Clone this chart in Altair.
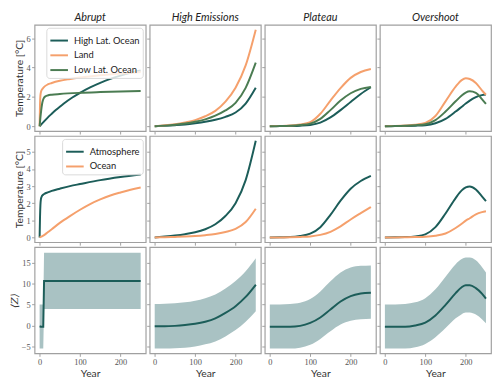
import altair as alt
import pandas as pd

# ---------------- data ----------------
SCENARIOS = ["Abrupt", "High Emissions", "Plateau", "Overshoot"]
REGION_NAMES = ["High Lat. Ocean", "Land", "Low Lat. Ocean"]
LAYER_NAMES = ["Atmosphere", "Ocean"]
X_TICKS = [0, 100, 200]
Y1_TICKS = [0, 2, 4, 6]
Y2_TICKS = [0, 1, 2, 3, 4, 5]
Y3_TICKS = [-5, 0, 5, 10, 15]

YEARS = [0, 25, 50, 75, 100, 125, 150, 175, 200, 225, 250]
OS_YEARS = [0, 25, 50, 75, 100, 125, 150, 175, 190, 200, 210, 225, 240, 250]

# Row 1 : regional temperatures
AB_YEARS_HLO = [0, 10, 20, 30, 40, 50, 60, 80, 100, 125, 150, 175, 200, 225, 250]
AB_HLO = [0, 0.30, 0.59, 0.85, 1.10, 1.33, 1.55, 1.94, 2.28, 2.65, 2.96, 3.23, 3.45, 3.64, 3.80]
AB_YEARS_LAND = [0, 1, 2, 4, 7, 10, 20, 30, 50, 75, 100, 150, 200, 250]
AB_LAND = [0, 1.5, 2.1, 2.4, 2.55, 2.65, 2.85, 2.95, 3.1, 3.22, 3.32, 3.48, 3.6, 3.7]
AB_YEARS_LLO = [0, 2, 4, 6, 8, 10, 15, 20, 30, 50, 100, 150, 200, 250]
AB_LLO = [0, 0.6, 1.1, 1.5, 1.75, 1.9, 2.05, 2.1, 2.15, 2.2, 2.28, 2.33, 2.37, 2.41]

HE_HLO = [0, 0.03, 0.07, 0.12, 0.20, 0.30, 0.44, 0.64, 0.94, 1.55, 2.63]
HE_LAND = [0, 0.06, 0.14, 0.26, 0.42, 0.68, 1.05, 1.68, 2.63, 4.15, 6.59]
HE_LLO = [0, 0.04, 0.10, 0.18, 0.30, 0.47, 0.72, 1.08, 1.60, 2.62, 4.34]

PL_HLO = [0, 0.01, 0.02, 0.04, 0.09, 0.25, 0.60, 1.10, 1.65, 2.20, 2.66]
PL_LAND = [0, 0.02, 0.05, 0.12, 0.28, 0.85, 1.75, 2.60, 3.30, 3.70, 3.90]
PL_LLO = [0, 0.01, 0.03, 0.08, 0.18, 0.50, 1.10, 1.75, 2.25, 2.55, 2.68]

OS_HLO = [0, 0.01, 0.02, 0.04, 0.07, 0.20, 0.50, 1.00, 1.33, 1.55, 1.75, 1.98, 2.12, 2.16]
OS_LAND = [0, 0.02, 0.05, 0.10, 0.22, 0.70, 1.70, 2.70, 3.15, 3.27, 3.22, 2.95, 2.45, 2.15]
OS_LLO = [0, 0.01, 0.03, 0.07, 0.14, 0.42, 1.00, 1.70, 2.10, 2.30, 2.38, 2.28, 1.85, 1.52]

# Row 2 : atmosphere / ocean temperatures
AB_YEARS_ATM = [0, 1, 2, 3, 5, 8, 12, 20, 30, 50, 75, 100, 150, 200, 250]
AB_ATM = [0, 1.2, 1.9, 2.2, 2.38, 2.48, 2.55, 2.63, 2.72, 2.85, 3.0, 3.12, 3.35, 3.53, 3.68]
AB_YEARS_OCN = [0, 10, 20, 30, 50, 75, 100, 125, 150, 175, 200, 225, 250]
AB_OCN = [0, 0.12, 0.3, 0.48, 0.85, 1.25, 1.62, 1.95, 2.22, 2.45, 2.63, 2.79, 2.92]

HE_ATM = [0, 0.05, 0.11, 0.19, 0.30, 0.48, 0.77, 1.25, 2.00, 3.35, 5.65]
HE_OCN = [0, 0.01, 0.03, 0.05, 0.08, 0.13, 0.20, 0.32, 0.50, 0.90, 1.68]

PL_ATM = [0, 0.01, 0.02, 0.08, 0.22, 0.60, 1.32, 2.15, 2.85, 3.30, 3.60]
PL_OCN = [0, 0.0, 0.01, 0.03, 0.06, 0.15, 0.33, 0.65, 1.05, 1.42, 1.78]

OS_ATM = [0, 0.01, 0.02, 0.06, 0.18, 0.60, 1.40, 2.30, 2.75, 2.92, 2.98, 2.80, 2.40, 2.12]
OS_OCN = [0, 0.0, 0.01, 0.02, 0.04, 0.10, 0.23, 0.55, 0.80, 0.98, 1.12, 1.35, 1.48, 1.53]

# Row 3 : <Z> mean and spread
AB_Z_YEARS = [0, 3, 6, 9, 11, 50, 100, 150, 200, 250]
AB_Z_MEAN = [-0.2, -0.3, -0.3, -0.3, 10.6, 10.6, 10.6, 10.6, 10.6, 10.6]
AB_Z_LO = [-5.5, -5.5, -5.5, -5.5, 3.9, 3.9, 3.9, 3.9, 3.9, 3.9]
AB_Z_HI = [5.0, 5.0, 5.0, 5.0, 17.3, 17.3, 17.3, 17.3, 17.3, 17.3]

HE_Z_MEAN = [-0.2, -0.2, -0.1, 0.1, 0.4, 0.9, 1.7, 3.0, 4.6, 6.8, 9.7]
HE_Z_LO = [-5.5, -5.5, -5.4, -5.3, -5.0, -4.5, -3.8, -2.6, -1.1, 0.9, 3.4]
HE_Z_HI = [5.1, 5.2, 5.3, 5.5, 5.9, 6.5, 7.4, 8.8, 10.6, 12.9, 16.0]

PL_Z_MEAN = [-0.3, -0.3, -0.3, -0.1, 0.6, 1.9, 3.8, 5.7, 7.0, 7.6, 7.8]
PL_Z_LO = [-5.5, -5.5, -5.5, -5.3, -4.6, -3.2, -1.4, 0.2, 1.1, 1.5, 1.6]
PL_Z_HI = [5.0, 5.0, 5.1, 5.4, 6.3, 8.1, 10.5, 12.6, 13.8, 14.2, 14.3]

OS_Z_MEAN = [-0.3, -0.3, -0.3, 0.0, 0.7, 2.4, 4.9, 7.7, 9.1, 9.6, 9.6, 8.9, 7.6, 6.4]
OS_Z_LO = [-5.5, -5.5, -5.5, -5.2, -4.4, -2.8, -0.6, 1.7, 2.7, 3.1, 3.1, 2.6, 1.5, 0.5]
OS_Z_HI = [5.0, 5.0, 5.1, 5.5, 6.5, 8.6, 11.6, 14.6, 15.8, 16.2, 16.2, 15.5, 13.9, 12.6]

# ---------------- style ----------------
TEAL = "#1c5d59"
ORANGE = "#f5a06c"
GREEN = "#4b7c52"
BAND = "#a9c2c3"
W, H = 113, 108
XDOM = [-12.5, 262.5]
YDOM = [[-0.33, 6.92], [-0.28, 5.93], [-6.65, 18.65]]
YTICKS = [Y1_TICKS, Y2_TICKS, Y3_TICKS]
YTITLES = ["Temperature [°C]", "Temperature [°C]", "⟨Z⟩"]

row1 = [
    [(REGION_NAMES[0], AB_YEARS_HLO, AB_HLO), (REGION_NAMES[1], AB_YEARS_LAND, AB_LAND), (REGION_NAMES[2], AB_YEARS_LLO, AB_LLO)],
    [(REGION_NAMES[0], YEARS, HE_HLO), (REGION_NAMES[1], YEARS, HE_LAND), (REGION_NAMES[2], YEARS, HE_LLO)],
    [(REGION_NAMES[0], YEARS, PL_HLO), (REGION_NAMES[1], YEARS, PL_LAND), (REGION_NAMES[2], YEARS, PL_LLO)],
    [(REGION_NAMES[0], OS_YEARS, OS_HLO), (REGION_NAMES[1], OS_YEARS, OS_LAND), (REGION_NAMES[2], OS_YEARS, OS_LLO)],
]
row2 = [
    [(LAYER_NAMES[0], AB_YEARS_ATM, AB_ATM), (LAYER_NAMES[1], AB_YEARS_OCN, AB_OCN)],
    [(LAYER_NAMES[0], YEARS, HE_ATM), (LAYER_NAMES[1], YEARS, HE_OCN)],
    [(LAYER_NAMES[0], YEARS, PL_ATM), (LAYER_NAMES[1], YEARS, PL_OCN)],
    [(LAYER_NAMES[0], OS_YEARS, OS_ATM), (LAYER_NAMES[1], OS_YEARS, OS_OCN)],
]
row3 = [
    (AB_Z_YEARS, AB_Z_MEAN, AB_Z_LO, AB_Z_HI),
    (YEARS, HE_Z_MEAN, HE_Z_LO, HE_Z_HI),
    (YEARS, PL_Z_MEAN, PL_Z_LO, PL_Z_HI),
    (OS_YEARS, OS_Z_MEAN, OS_Z_LO, OS_Z_HI),
]


def long_df(series):
    rows = []
    for name, ys, vs in series:
        for y, v in zip(ys, vs):
            rows.append({"year": y, "value": v, "series": name})
    return pd.DataFrame(rows)


def x_enc(r):
    show = r == 2
    return alt.X(
        "year:Q",
        scale=alt.Scale(domain=XDOM, nice=False, zero=False),
        axis=alt.Axis(values=X_TICKS, labels=show, title=("Year" if show else None), format="d"),
    )


def y_enc(r, c, field="value"):
    show = c == 0
    kw = dict(values=YTICKS[r], labels=show, title=(YTITLES[r] if show else None), format="d")
    if r == 2 and show:
        kw.update(titleFont="DejaVu Serif", titleFontStyle="italic", titleFontSize=10)
    return alt.Y(
        f"{field}:Q",
        scale=alt.Scale(domain=YDOM[r], nice=False, zero=False),
        axis=alt.Axis(**kw),
    )


def make_legend():
    return alt.Legend(
        orient="top-right", title=None, offset=3, fillColor="rgba(255,255,255,0.8)",
        strokeColor="#d9d9d9", cornerRadius=3, padding=3, labelFont="Lato",
        labelFontSize=9.5, labelColor="#222", symbolType="stroke", symbolSize=320,
        symbolStrokeWidth=2, rowPadding=-7, labelOffset=5,
    )


def line_panel(r, c, series, names, colors):
    df = long_df(series)
    legend = make_legend() if c == 0 else None
    return (
        alt.Chart(df)
        .mark_line(strokeWidth=2, interpolate="monotone")
        .encode(
            x=x_enc(r),
            y=y_enc(r, c),
            color=alt.Color("series:N", scale=alt.Scale(domain=names, range=colors), legend=legend),
            order=alt.Order("year:Q"),
        )
        .properties(width=W, height=H)
    )


def z_panel(c, years, mean, lo, hi):
    df = pd.DataFrame({"year": years, "mean": mean, "lo": lo, "hi": hi})
    interp = "linear" if c == 0 else "monotone"
    base = alt.Chart(df)
    band = base.mark_area(color=BAND, opacity=1, interpolate=interp).encode(
        x=x_enc(2), y=y_enc(2, c, "lo"), y2="hi:Q"
    )
    line = base.mark_line(color=TEAL, strokeWidth=2, interpolate=interp).encode(
        x=x_enc(2), y=y_enc(2, c, "mean")
    )
    return alt.layer(band, line).properties(width=W, height=H)


panels = []
for c in range(4):
    p = line_panel(0, c, row1[c], REGION_NAMES, [TEAL, ORANGE, GREEN]).properties(
        title=alt.TitleParams(
            text=SCENARIOS[c], font="Lato", fontStyle="italic", fontSize=11,
            fontWeight="normal", color="#222", offset=2, anchor="middle",
        )
    )
    panels.append(p)
for c in range(4):
    panels.append(line_panel(1, c, row2[c], LAYER_NAMES, [TEAL, ORANGE]))
for c in range(4):
    panels.append(z_panel(c, *row3[c]))

chart = (
    alt.concat(*panels, columns=4, spacing={"row": 5, "column": 4}, bounds="flush")
    .resolve_scale(color="independent")
    .properties(padding=0)
    .configure_view(stroke="#a0a0a0", strokeWidth=1.2)
    .configure_axis(
        grid=False, domain=False, tickColor="#a0a0a0", tickSize=3,
        labelFont="Liberation Serif", labelFontSize=8.5, labelColor="#555",
        labelPadding=1.5, titleFont="Lato", titleFontSize=10.5,
        titleFontWeight="normal", titleColor="#333", titlePadding=2,
    )
)

chart.save("out.html", embed_options={"renderer": "svg", "actions": False})
